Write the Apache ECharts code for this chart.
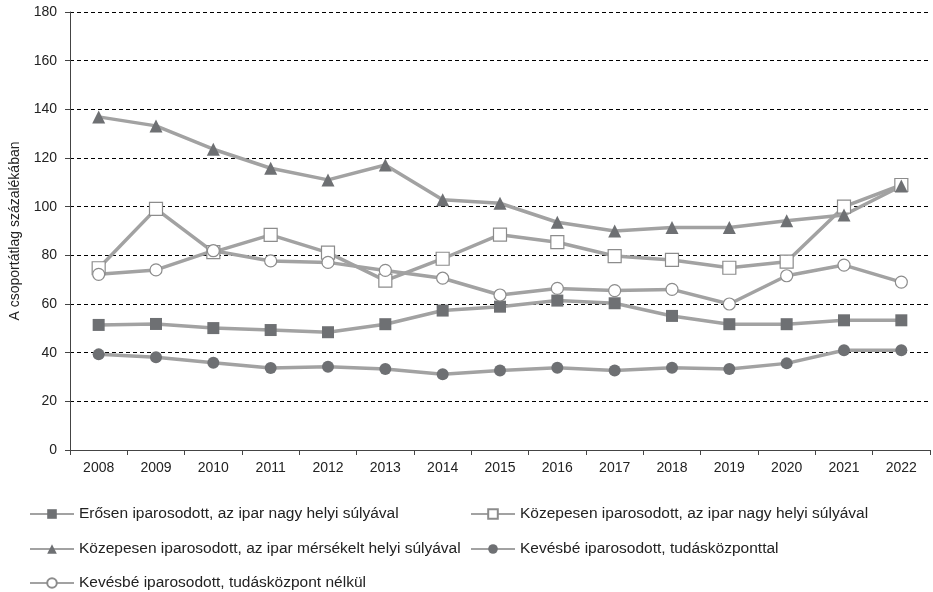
<!DOCTYPE html>
<html>
<head>
<meta charset="utf-8">
<script src="https://cdn.jsdelivr.net/npm/echarts@6/dist/echarts.min.js"></script>
<style>html,body{margin:0;padding:0;background:#fff}#c{width:933px;height:592px}</style>
</head>
<body>
<div id="c"></div>
<script>
const years = ['2008','2009','2010','2011','2012','2013','2014','2015','2016','2017','2018','2019','2020','2021','2022'];
const names = [
  'Erősen iparosodott, az ipar nagy helyi súlyával',
  'Közepesen iparosodott, az ipar nagy helyi súlyával',
  'Közepesen iparosodott, az ipar mérsékelt helyi súlyával',
  'Kevésbé iparosodott, tudásközponttal',
  'Kevésbé iparosodott, tudásközpont nélkül'
];
const erosenNagy = [51.4, 51.8, 50.1, 49.3, 48.4, 51.7, 57.3, 58.9, 61.4, 60.3, 55.1, 51.7, 51.7, 53.3, 53.3];
const kozepesenNagy = [74.7, 99.1, 81.3, 88.4, 81.1, 69.6, 78.6, 88.5, 85.4, 79.7, 78.1, 74.9, 77.4, 100.0, 108.9];
const kozepesenMerseklet = [136.9, 133.2, 123.6, 115.8, 111.0, 117.1, 102.8, 101.4, 93.6, 90.0, 91.4, 91.4, 94.2, 96.6, 108.5];
const kevesbeTudas = [39.3, 38.1, 35.9, 33.7, 34.2, 33.3, 31.1, 32.7, 33.8, 32.7, 33.8, 33.3, 35.6, 41.0, 41.0];
const kevesbeNelkul = [72.2, 74.0, 81.9, 77.7, 77.1, 73.8, 70.6, 63.7, 66.4, 65.5, 66.0, 60.0, 71.6, 76.0, 69.0];
const yTicks = [0, 20, 40, 60, 80, 100, 120, 140, 160, 180];

const FONT = 'Liberation Sans';
const LINE = '#a2a2a2';
const DARK = '#6e7073';
const OPENB = '#8c8c8c';

function mk(name, data, symbol, size, filled) {
  return {
    name: name, type: 'line', data: data, symbol: symbol, symbolSize: size,
    lineStyle: {color: LINE, width: 3.5},
    itemStyle: filled ? {color: DARK, borderColor: DARK, borderWidth: 0} : {color: '#ffffff', borderColor: OPENB, borderWidth: 1.2},
    emphasis: {disabled: true},
    animation: false, z: 3
  };
}

const legendPos = [
  {left: 29, top: 506}, {left: 470, top: 506},
  {left: 29, top: 541}, {left: 470, top: 541},
  {left: 29, top: 575}
];

const chart = echarts.init(document.getElementById('c'));
chart.setOption({
  animation: false,
  textStyle: {fontFamily: FONT},
  grid: {left: 70, right: 3, top: 12, bottom: 142, containLabel: false, outerBoundsMode: 'none'},
  legend: names.map((n, i) => ({
    data: [n], left: legendPos[i].left, top: legendPos[i].top, padding: 0,
    itemWidth: 44, itemHeight: 12, selectedMode: false,
    textStyle: {fontFamily: FONT, fontSize: 15.5, color: '#222'}
  })),
  xAxis: {
    type: 'category', data: years, boundaryGap: true,
    axisLine: {lineStyle: {color: '#444', width: 1}},
    axisTick: {show: true, length: 5, lineStyle: {color: '#444'}},
    axisLabel: {fontFamily: FONT, fontSize: 14, color: '#222', margin: 11}
  },
  yAxis: {
    type: 'value', min: 0, max: 180, interval: 20,
    name: 'A csoportátlag százalékában', nameLocation: 'middle', nameGap: 48,
    nameTextStyle: {fontFamily: FONT, fontSize: 14, color: '#222'},
    axisLine: {show: true, lineStyle: {color: '#444', width: 1}},
    axisTick: {show: true, length: 5, lineStyle: {color: '#444'}},
    axisLabel: {fontFamily: FONT, fontSize: 14, color: '#222', margin: 13,
      formatter: v => yTicks.includes(v) ? String(v) : ''},
    splitLine: {show: true, lineStyle: {color: '#000', type: [4, 3], width: 1}}
  },
  series: [
    mk(names[0], erosenNagy, 'rect', 12, true),
    mk(names[1], kozepesenNagy, 'rect', 13, false),
    mk(names[2], kozepesenMerseklet, 'triangle', 13, true),
    mk(names[3], kevesbeTudas, 'circle', 12, true),
    mk(names[4], kevesbeNelkul, 'circle', 12, false)
  ]
});
</script>
</body>
</html>
